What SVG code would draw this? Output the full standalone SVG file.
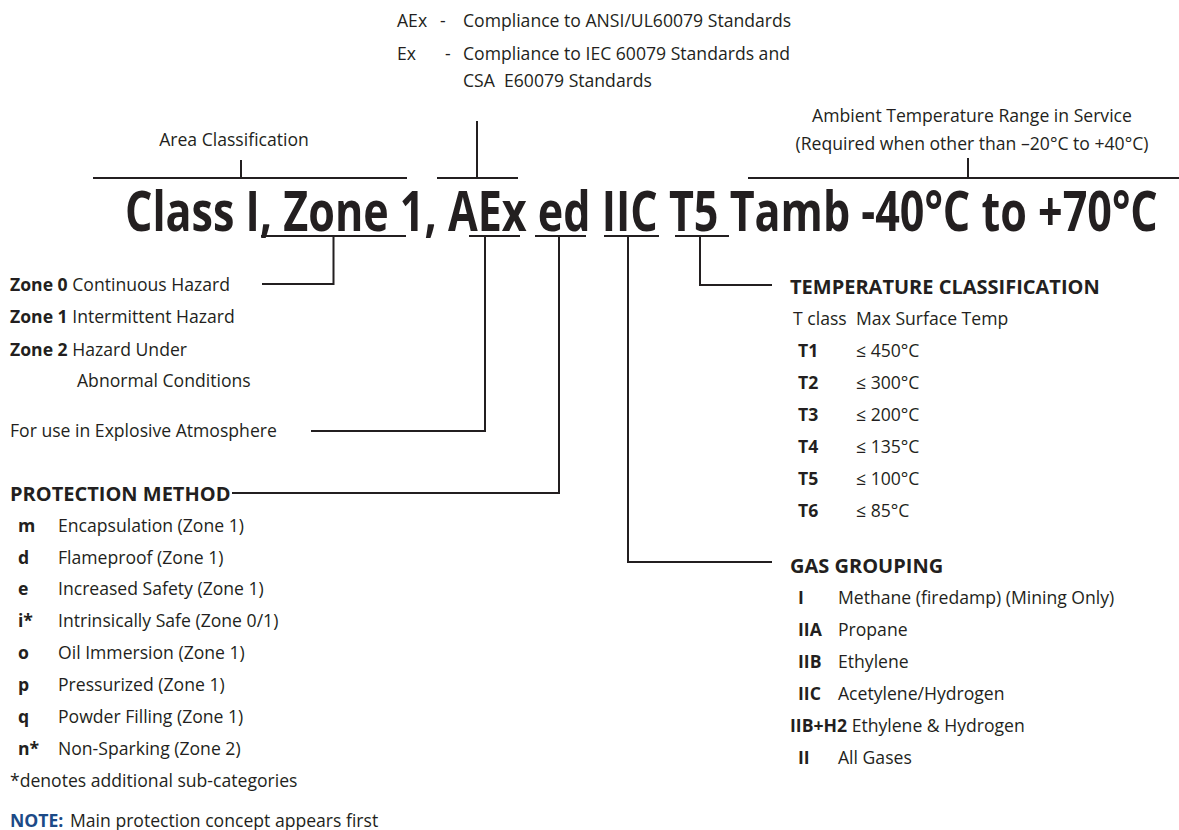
<svg xmlns="http://www.w3.org/2000/svg" width="1179" height="830" viewBox="0 0 1179 830">
<style>
  text { font-family: "Open Sans", "Noto Sans", sans-serif; fill: #231f20; font-size: 17.6px; }
  .b { font-weight: bold; }
  .h { font-weight: bold; font-size: 20px; }
  .t { font-weight: bold; font-size: 55px; }
  .note { fill: #1c4a87; font-weight: bold; }
  .ln { fill: none; stroke: #231f20; stroke-width: 2; }
</style>
<rect width="1179" height="830" fill="#ffffff"/>

<g id="title" transform="translate(125,231) scale(0.8,1)">
  <text class="t" x="0" y="0" textLength="1291" lengthAdjust="spacingAndGlyphs">Class I, Zone 1, AEx ed IIC T5 Tamb -40°C to +70°C</text>
</g>

<g id="approval-note">
  <text x="397" y="27">AEx</text>
  <text x="440" y="27">-</text>
  <text x="463" y="27">Compliance to ANSI/UL60079 Standards</text>
  <text x="397" y="60">Ex</text>
  <text x="445" y="60">-</text>
  <text x="463" y="60">Compliance to IEC 60079 Standards and</text>
  <text x="463" y="87" xml:space="preserve">CSA  E60079 Standards</text>
</g>

<g id="area-classification">
  <text x="234" y="146" text-anchor="middle">Area Classification</text>
</g>

<g id="ambient">
  <text x="972" y="122" text-anchor="middle">Ambient Temperature Range in Service</text>
  <text x="972" y="150" text-anchor="middle">(Required when other than –20°C to +40°C)</text>
</g>

<g id="zones">
  <text x="10" y="291"><tspan class="b">Zone 0</tspan> Continuous Hazard</text>
  <text x="10" y="323"><tspan class="b">Zone 1</tspan> Intermittent Hazard</text>
  <text x="10" y="356"><tspan class="b">Zone 2</tspan> Hazard Under</text>
  <text x="77" y="387">Abnormal Conditions</text>
</g>

<g id="explosive">
  <text x="10" y="437">For use in Explosive Atmosphere</text>
</g>

<g id="protection-method">
  <text class="h" x="10" y="501">PROTECTION METHOD</text>
  <text class="b" x="18" y="532">m</text><text x="58" y="532">Encapsulation (Zone 1)</text>
  <text class="b" x="18" y="564">d</text><text x="58" y="564">Flameproof (Zone 1)</text>
  <text class="b" x="18" y="595">e</text><text x="58" y="595">Increased Safety (Zone 1)</text>
  <text class="b" x="18" y="627">i*</text><text x="58" y="627">Intrinsically Safe (Zone 0/1)</text>
  <text class="b" x="18" y="659">o</text><text x="58" y="659">Oil Immersion (Zone 1)</text>
  <text class="b" x="18" y="691">p</text><text x="58" y="691">Pressurized (Zone 1)</text>
  <text class="b" x="18" y="723">q</text><text x="58" y="723">Powder Filling (Zone 1)</text>
  <text class="b" x="18" y="755">n*</text><text x="58" y="755">Non-Sparking (Zone 2)</text>
  <text x="10" y="787">*denotes additional sub-categories</text>
  <text class="note" x="10" y="827">NOTE:</text>
  <text x="70" y="827">Main protection concept appears first</text>
</g>

<g id="temperature-classification">
  <text class="h" x="790" y="294">TEMPERATURE CLASSIFICATION</text>
  <text x="793" y="325">T class</text><text x="856" y="325">Max Surface Temp</text>
  <text class="b" x="798" y="357">T1</text><text x="856" y="357">≤ 450°C</text>
  <text class="b" x="798" y="389">T2</text><text x="856" y="389">≤ 300°C</text>
  <text class="b" x="798" y="421">T3</text><text x="856" y="421">≤ 200°C</text>
  <text class="b" x="798" y="453">T4</text><text x="856" y="453">≤ 135°C</text>
  <text class="b" x="798" y="485">T5</text><text x="856" y="485">≤ 100°C</text>
  <text class="b" x="798" y="517">T6</text><text x="856" y="517">≤ 85°C</text>
</g>

<g id="gas-grouping">
  <text class="h" x="790" y="573">GAS GROUPING</text>
  <text class="b" x="798" y="604">I</text><text x="838" y="604">Methane (firedamp) (Mining Only)</text>
  <text class="b" x="798" y="636">IIA</text><text x="838" y="636">Propane</text>
  <text class="b" x="798" y="668">IIB</text><text x="838" y="668">Ethylene</text>
  <text class="b" x="798" y="700">IIC</text><text x="838" y="700">Acetylene/Hydrogen</text>
  <text x="790" y="732"><tspan class="b">IIB+H2</tspan> Ethylene &amp; Hydrogen</text>
  <text class="b" x="798" y="764">II</text><text x="838" y="764">All Gases</text>
</g>

<g id="connectors">
  <path class="ln" d="M93,178 H407 M241,160 V178"/>
  <path class="ln" d="M437,178 H518 M477,121 V178"/>
  <path class="ln" d="M748,178 H1179 M968,158 V178"/>
  <path class="ln" d="M261,236 H406 M469,236 H520 M535,236 H586 M604,236 H659 M675,236 H729"/>
  <path class="ln" d="M333.5,236 V284 H262"/>
  <path class="ln" d="M485,236 V431 H311"/>
  <path class="ln" d="M559,236 V493 H232"/>
  <path class="ln" d="M628,236 V562 H772"/>
  <path class="ln" d="M700,236 V285 H772"/>
</g>
</svg>
